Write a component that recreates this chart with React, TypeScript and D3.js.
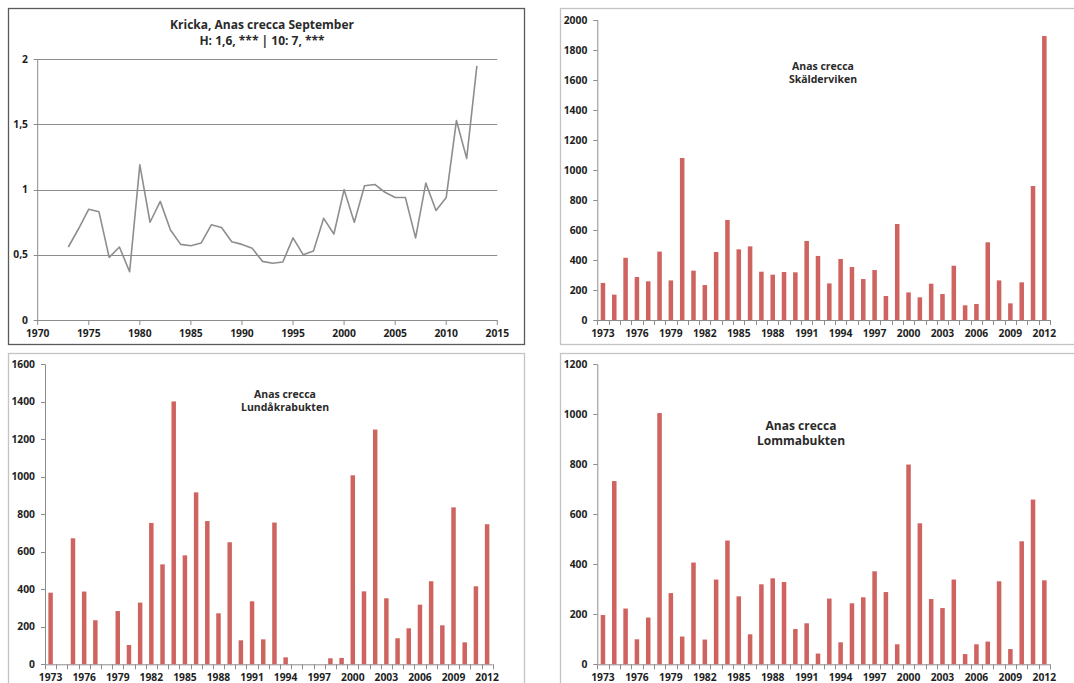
import React, { useEffect, useRef } from 'react';
import * as d3 from 'd3';

// ---- Data ----
const indexYears = [1973, 1974, 1975, 1976, 1977, 1978, 1979, 1980, 1981, 1982, 1983, 1984, 1985, 1986, 1987, 1988, 1989, 1990, 1991, 1992, 1993, 1994, 1995, 1996, 1997, 1998, 1999, 2000, 2001, 2002, 2003, 2004, 2005, 2006, 2007, 2008, 2009, 2010, 2011, 2012, 2013];
const indexValues = [0.56, 0.7, 0.85, 0.83, 0.48, 0.56, 0.37, 1.19, 0.75, 0.91, 0.69, 0.58, 0.57, 0.59, 0.73, 0.71, 0.6, 0.58, 0.55, 0.45, 0.435, 0.445, 0.63, 0.5, 0.53, 0.78, 0.66, 1.0, 0.75, 1.03, 1.04, 0.98, 0.94, 0.94, 0.63, 1.05, 0.84, 0.94, 1.53, 1.24, 1.95];
const indexXTicks = [1970, 1975, 1980, 1985, 1990, 1995, 2000, 2005, 2010, 2015];
const indexYTicks = [0, 0.5, 1, 1.5, 2];
const indexYTickLabels = ['0', '0,5', '1', '1,5', '2'];

const barYears = [1973, 1974, 1975, 1976, 1977, 1978, 1979, 1980, 1981, 1982, 1983, 1984, 1985, 1986, 1987, 1988, 1989, 1990, 1991, 1992, 1993, 1994, 1995, 1996, 1997, 1998, 1999, 2000, 2001, 2002, 2003, 2004, 2005, 2006, 2007, 2008, 2009, 2010, 2011, 2012];
const yearLabels = [1973, 1976, 1979, 1982, 1985, 1988, 1991, 1994, 1997, 2000, 2003, 2006, 2009, 2012];

const skalderviken = [247, 169, 415, 287, 258, 456, 264, 1080, 329, 233, 453, 667, 471, 491, 322, 302, 320, 318, 527, 427, 244, 407, 353, 273, 333, 160, 640, 184, 151, 242, 173, 362, 98, 107, 518, 264, 111, 251, 893, 1893];
const lundakrabukten = [382, 0, 672, 388, 235, 0, 284, 103, 329, 754, 533, 1402, 581, 917, 764, 272, 651, 128, 336, 133, 756, 37, 0, 0, 0, 32, 34, 1008, 389, 1252, 352, 139, 192, 318, 443, 208, 837, 117, 416, 747];
const lommabukten = [197, 733, 223, 100, 187, 1005, 285, 111, 407, 99, 339, 495, 272, 120, 320, 344, 329, 141, 164, 43, 263, 88, 244, 268, 372, 289, 80, 799, 564, 261, 225, 339, 41, 80, 91, 332, 61, 492, 659, 336];

const titleMain = ['Kricka, Anas crecca September', 'H: 1,6, *** | 10: 7, ***'];

const FONT = '"Open Sans", sans-serif';
const BAR = '#cf6360';
const AXIS = '#8c8c8c';
const TEXT = '#1e1e1e';
const TICK_FS = 10.3;

export default function App() {
  const ref = useRef<SVGSVGElement>(null);

  useEffect(() => {
    const svg = d3.select(ref.current);
    svg.selectAll('*').remove();

    // panel borders
    const borders = [
      { x: 8.5, y: 8.5, w: 516, h: 336, c: '#5a5a5a' },
      { x: 560.5, y: 8.5, w: 540, h: 336, c: '#c4c4c4' },
      { x: 8.5, y: 353.5, w: 516, h: 360, c: '#c4c4c4' },
      { x: 560.5, y: 353.5, w: 540, h: 360, c: '#c4c4c4' },
    ];
    svg.selectAll('rect.border').data(borders).enter().append('rect')
      .attr('x', d => d.x).attr('y', d => d.y).attr('width', d => d.w).attr('height', d => d.h)
      .attr('fill', 'white').attr('stroke', d => d.c).attr('stroke-width', 1.3);

    // ---- Line chart ----
    const lx = d3.scaleLinear().domain([1970, 2015]).range([37.7, 497.3]);
    const ly = d3.scaleLinear().domain([0, 2]).range([320, 59.3]);
    const g1 = svg.append('g');
    g1.selectAll('line.grid').data(indexYTicks.filter(v => v > 0)).enter().append('line')
      .attr('x1', lx(1970) - 4).attr('x2', lx(2015))
      .attr('y1', d => Math.round(ly(d)) + 0.5).attr('y2', d => Math.round(ly(d)) + 0.5)
      .attr('stroke', AXIS).attr('stroke-width', 1);
    g1.append('line').attr('x1', lx(1970) - 4).attr('x2', lx(2015)).attr('y1', ly(0) + 0.5).attr('y2', ly(0) + 0.5).attr('stroke', AXIS);
    g1.append('line').attr('x1', lx(1970)).attr('x2', lx(1970)).attr('y1', ly(2)).attr('y2', ly(0) + 0.5).attr('stroke', AXIS);
    g1.selectAll('line.xt').data(indexXTicks).enter().append('line')
      .attr('x1', d => lx(d)).attr('x2', d => lx(d)).attr('y1', ly(0)).attr('y2', ly(0) + 5).attr('stroke', AXIS);
    g1.selectAll('text.yl').data(indexYTicks).enter().append('text')
      .attr('x', 28).attr('y', d => ly(d)).attr('dy', '0.35em').attr('text-anchor', 'end')
      .attr('font-family', FONT).attr('font-weight', 'bold').attr('font-size', TICK_FS).attr('fill', TEXT)
      .text((d, i) => indexYTickLabels[i]);
    g1.selectAll('text.xl').data(indexXTicks).enter().append('text')
      .attr('x', d => lx(d)).attr('y', 333.5).attr('dy', '0.35em').attr('text-anchor', 'middle')
      .attr('font-family', FONT).attr('font-weight', 'bold').attr('font-size', TICK_FS).attr('fill', TEXT)
      .text(d => String(d));
    const line = d3.line<number>().x((d, i) => lx(indexYears[i])).y(d => ly(d));
    g1.append('path').attr('d', line(indexValues)).attr('fill', 'none').attr('stroke', '#8e8e8e').attr('stroke-width', 1.6).attr('stroke-linejoin', 'round');
    g1.selectAll('text.title').data(titleMain).enter().append('text')
      .attr('x', 262).attr('y', (d, i) => 25 + i * 15.5).attr('dy', '0.35em').attr('text-anchor', 'middle')
      .attr('font-family', FONT).attr('font-weight', 'bold').attr('font-size', 12).attr('fill', '#2a2a2a')
      .text(d => d);

    // ---- Bar charts ----
    const bars = [
      { data: skalderviken, x0: 597.3, x1: 1050, yTop: 20, yBot: 320, max: 2000, title: ['Anas crecca', 'Skälderviken'], tx: 823, ty: 66, tfs: 10.5, tgap: 13.5 },
      { data: lundakrabukten, x0: 45, x1: 492.7, yTop: 364.3, yBot: 664.3, max: 1600, title: ['Anas crecca', 'Lundåkrabukten'], tx: 285, ty: 394, tfs: 10.5, tgap: 13 },
      { data: lommabukten, x0: 597.3, x1: 1050, yTop: 364.3, yBot: 664.3, max: 1200, title: ['Anas crecca', 'Lommabukten'], tx: 801, ty: 426, tfs: 12, tgap: 15 },
    ];
    bars.forEach(p => {
      const g = svg.append('g');
      const x = d3.scaleBand<number>().domain(barYears).range([p.x0, p.x1]).paddingInner(0.6).paddingOuter(0.3);
      const y = d3.scaleLinear().domain([0, p.max]).range([p.yBot, p.yTop]);
      const yTicks = d3.range(0, p.max + 1, 200);
      g.append('line').attr('x1', p.x0 + 0.5).attr('x2', p.x0 + 0.5).attr('y1', p.yTop).attr('y2', p.yBot).attr('stroke', AXIS);
      g.append('line').attr('x1', p.x0).attr('x2', p.x1).attr('y1', p.yBot + 0.5).attr('y2', p.yBot + 0.5).attr('stroke', AXIS);
      g.selectAll('line.yt').data(yTicks).enter().append('line')
        .attr('x1', p.x0 - 4).attr('x2', p.x0).attr('y1', d => Math.round(y(d)) + 0.5).attr('y2', d => Math.round(y(d)) + 0.5).attr('stroke', AXIS);
      const step = x.step();
      g.selectAll('line.xt').data(d3.range(barYears.length + 1)).enter().append('line')
        .attr('x1', d => Math.round(p.x0 + d * step) + 0.5).attr('x2', d => Math.round(p.x0 + d * step) + 0.5)
        .attr('y1', p.yBot).attr('y2', p.yBot + 5).attr('stroke', AXIS);
      g.selectAll('rect.bar').data(p.data).enter().append('rect')
        .attr('x', (d, i) => x(barYears[i])!).attr('width', x.bandwidth())
        .attr('y', d => y(d)).attr('height', d => y(0) - y(d)).attr('fill', BAR);
      g.selectAll('text.yl').data(yTicks).enter().append('text')
        .attr('x', p.x0 - 10).attr('y', d => y(d)).attr('dy', '0.35em').attr('text-anchor', 'end')
        .attr('font-family', FONT).attr('font-weight', 'bold').attr('font-size', TICK_FS).attr('fill', TEXT)
        .text(d => String(d));
      g.selectAll('text.xl').data(yearLabels).enter().append('text')
        .attr('x', d => x(d)! + x.bandwidth() / 2).attr('y', p.yBot + 13.5).attr('dy', '0.35em').attr('text-anchor', 'middle')
        .attr('font-family', FONT).attr('font-weight', 'bold').attr('font-size', TICK_FS).attr('fill', TEXT)
        .text(d => String(d));
      g.selectAll('text.t').data(p.title).enter().append('text')
        .attr('x', p.tx).attr('y', (d, i) => p.ty + i * p.tgap).attr('dy', '0.35em').attr('text-anchor', 'middle')
        .attr('font-family', FONT).attr('font-weight', 'bold').attr('font-size', p.tfs).attr('fill', '#2a2a2a')
        .text(d => d);
    });
  }, []);

  return (
    <svg ref={ref} width={1074} height={683} style={{ position: 'absolute', left: 0, top: 0, background: 'white' }} />
  );
}
